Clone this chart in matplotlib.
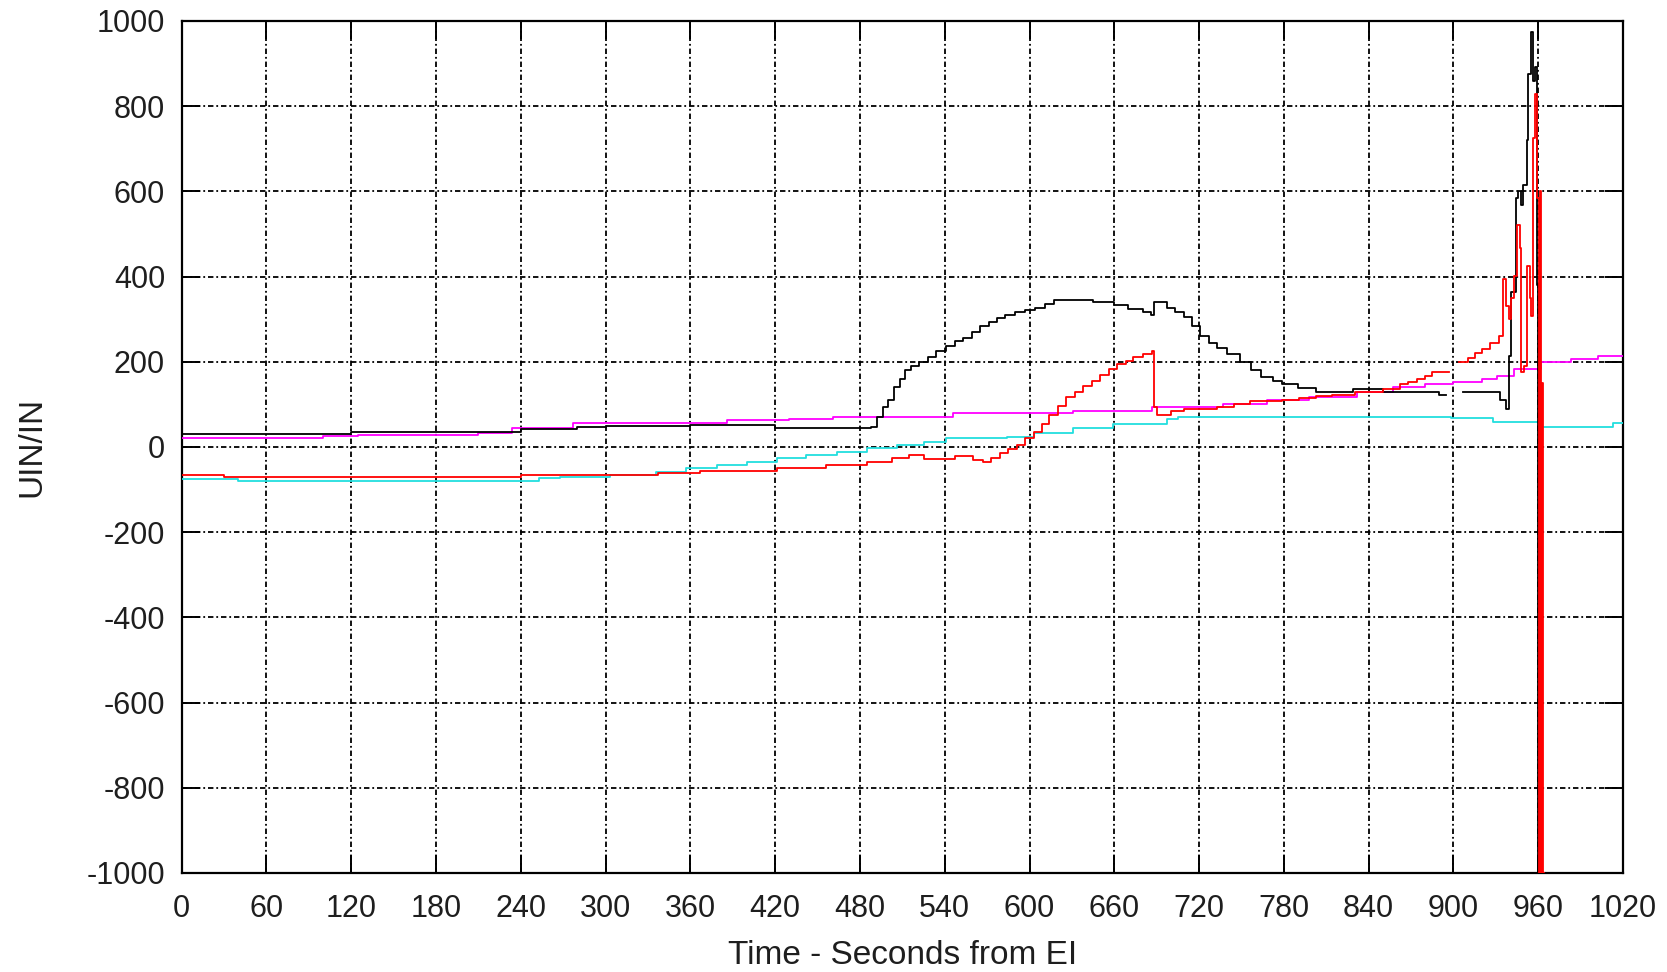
import numpy as np
import matplotlib
matplotlib.use("Agg")
import matplotlib.pyplot as plt

plt.rcParams["axes.unicode_minus"] = False
nan = np.nan

# ---- data ----
black_t = [0, 120, 240, 280, 300, 360, 420, 488, 492, 496, 500, 504, 508, 512, 516, 522, 528, 534, 541,
           547, 553, 559, 565, 571, 577, 583, 590, 597, 604, 611, 617, 645, 660, 670, 680, 686, 688,
           697, 703, 709, 715, 721, 727, 733, 740, 749, 757, 764, 772, 779, 790, 803, 829, 850, 870,
           890, 895, 907, 926, 933, 937, 939, 941, 944, 946, 948, 949, 952, 953, 955, 956, 958, 959,
           960, 960.7, 961.4, 962]
black_v = [30, 36, 42, 46, 50, 52, 45, 47, 70, 95, 110, 140, 160, 180, 190, 200, 212, 225, 238,
           248, 256, 270, 284, 294, 302, 310, 318, 322, 327, 336, 345, 340, 333, 325, 318, 310, 340,
           326, 318, 305, 285, 260, 245, 233, 218, 200, 180, 165, 155, 147, 138, 130, 135, 130, 128,
           122, nan, 128, 130, 110, 88, 213, 364, 585, 600, 568, 616, 720, 876, 975, 860, 893, 380,
           -1000, 300, -1000, -1000]

red_t = [0, 30, 240, 337, 367, 421, 456, 485, 503, 515, 525, 541, 547, 560, 567, 573, 579, 585, 591,
         597, 603, 609, 614, 620, 626, 632, 638, 644, 650, 656, 662, 668, 673, 680, 687, 688, 690,
         700, 709, 720, 733, 745, 756, 779, 791, 803, 814, 830, 850, 862, 868, 874, 880, 885, 895,
         897, 904, 910, 915, 920, 926, 932, 935, 937, 939, 941, 943, 945, 947, 948, 950, 952, 954,
         955, 956, 958, 959, 960.5, 961.3, 962, 962.8, 963.5, 964]
red_v = [-65, -70, -66, -62, -57, -50, -43, -35, -26, -19, -28, -28, -22, -30, -35, -25, -15, -5, 5,
         20, 35, 55, 76, 97, 118, 130, 142, 156, 170, 182, 194, 203, 211, 218, 225, 95, 76,
         85, 88, 90, 95, 100, 107, 111, 116, 120, 123, 128, 135, 147, 153, 159, 167, 175, 177,
         nan, 199, 210, 220, 230, 245, 260, 395, 330, 300, 350, 402, 520, 466, 175, 190, 426, 350,
         308, 726, 828, 585, -1000, 600, -1000, 150, -1000, -1000]

magenta_t = [0, 100, 125, 210, 234, 277, 386, 430, 461, 546, 631, 687, 737, 768, 798, 832, 857, 880,
             900, 920, 931, 943, 962, 983, 1002, 1020]
magenta_v = [22, 26, 28, 33, 45, 57, 64, 66, 71, 80, 85, 95, 100, 111, 118, 128, 140, 148,
             152, 159, 166, 183, 199, 206, 213, 213]

cyan_t = [0, 40, 253, 268, 303, 336, 357, 379, 400, 421, 442, 464, 485, 506, 525, 541, 584, 603, 631,
          659, 697, 705, 898, 928, 962, 1013, 1020]
cyan_v = [-75, -80, -73, -71, -66, -59, -50, -43, -35, -26, -19, -12, -2, 5, 12, 21, 24, 33, 45,
          54, 66, 71, 69, 59, 47, 57, 57]

x_ticks = list(range(0, 1021, 60))
y_ticks = list(range(-1000, 1001, 200))

# ---- figure ----
fig = plt.figure(figsize=(16.67, 9.72), dpi=100)
ax = fig.add_axes([0.109, 0.1019, 0.8646, 0.8765])

tc = "#1e1e1e"
lw = 1.3
ax.plot(cyan_t, cyan_v, drawstyle="steps-post", color="#22dede", lw=lw, zorder=3)
ax.plot(magenta_t, magenta_v, drawstyle="steps-post", color="#ff00ff", lw=lw, zorder=4)
ax.plot(black_t, black_v, drawstyle="steps-post", color="#000000", lw=lw, zorder=4.5)
ax.plot(red_t, red_v, drawstyle="steps-post", color="#ff0000", lw=lw, zorder=5)

ax.set_xlim(0, 1020)
ax.set_ylim(-1000, 1000)
ax.set_xticks(x_ticks)
ax.set_yticks(y_ticks)

ax.grid(True, color="black", linestyle=(0, (3, 1.6, 1, 1.6)), linewidth=1.3, zorder=1)
for s in ax.spines.values():
    s.set_linewidth(1.6)
    s.set_color("black")

ax.tick_params(axis="both", direction="in", length=13, width=1.4, colors="black",
               labelcolor=tc, labelsize=22, top=True, right=True)
ax.tick_params(axis="y", pad=12)
ax.tick_params(axis="x", pad=15)
for lab in ax.get_xticklabels() + ax.get_yticklabels():
    lab.set_fontfamily("Liberation Sans")

ax.set_xlabel("Time - Seconds from EI", fontsize=24, color=tc, family="Liberation Sans", labelpad=12)
ax.set_ylabel("UIN/IN", fontsize=24, color=tc, family="Liberation Sans", labelpad=28)

fig.savefig("out.png", dpi=100, facecolor="white")
